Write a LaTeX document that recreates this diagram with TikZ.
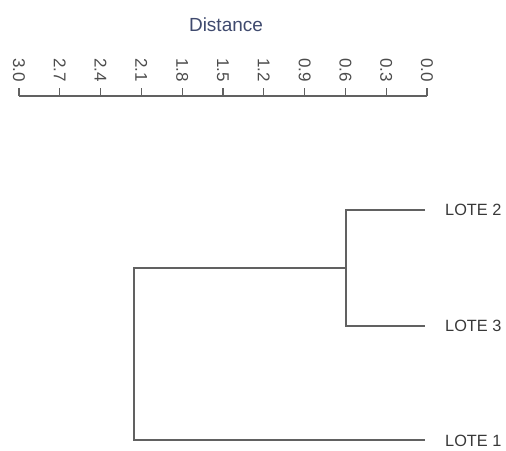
\documentclass[tikz,border=0pt]{standalone}
\usepackage{fontspec}
\setmainfont{Liberation Sans}
\definecolor{titleblue}{HTML}{3F4A6E}
\begin{document}
\begin{tikzpicture}[x=1pt,y=-1pt,
  branch/.style={draw=black!62,line width=1.8pt},
  axisline/.style={draw=black!62,line width=1.3pt},
  leaflabel/.style={anchor=west,inner sep=0pt,font=\fontsize{16.3}{18}\selectfont,text=black!78},
  ticklabel/.style={anchor=east,rotate=-90,inner sep=0pt,font=\fontsize{17}{19}\selectfont,text=black!70},
  titlelabel/.style={inner sep=0pt,font=\fontsize{19}{21}\selectfont,text=titleblue}]
\useasboundingbox (0,0) rectangle (506,450);
% axis
\node[titlelabel] (title) at (226,25) {Distance};
\coordinate (axL) at (19,96);
\coordinate (axR) at (427,96);
\draw[axisline] (axL) -- (axR);
\foreach \i/\lab in {0/3.0,1/2.7,2/2.4,3/2.1,4/1.8,5/1.5,6/1.2,7/0.9,8/0.6,9/0.3,10/0.0}{
  \coordinate (t\i) at ({19+\i*40.8},96);
  \draw[axisline] (t\i) -- ++(0,-8);
  \node[ticklabel] (tl\i) at ({19+\i*40.8},82) {\lab};
}
% dendrogram
\node[leaflabel] (l2) at (445,210) {LOTE 2};
\node[leaflabel] (l3) at (445,326) {LOTE 3};
\node[leaflabel] (l1) at (445,441) {LOTE 1};
\coordinate (e2) at (425,210);
\coordinate (e3) at (425,326);
\coordinate (e1) at (425,440);
\coordinate (m23) at (346,268);
\coordinate (root) at (134,354);
\draw[branch] (e2) -| (m23) |- (e3);
\draw[branch] (m23) -- (root |- m23) |- (e1);
\end{tikzpicture}
\end{document}
